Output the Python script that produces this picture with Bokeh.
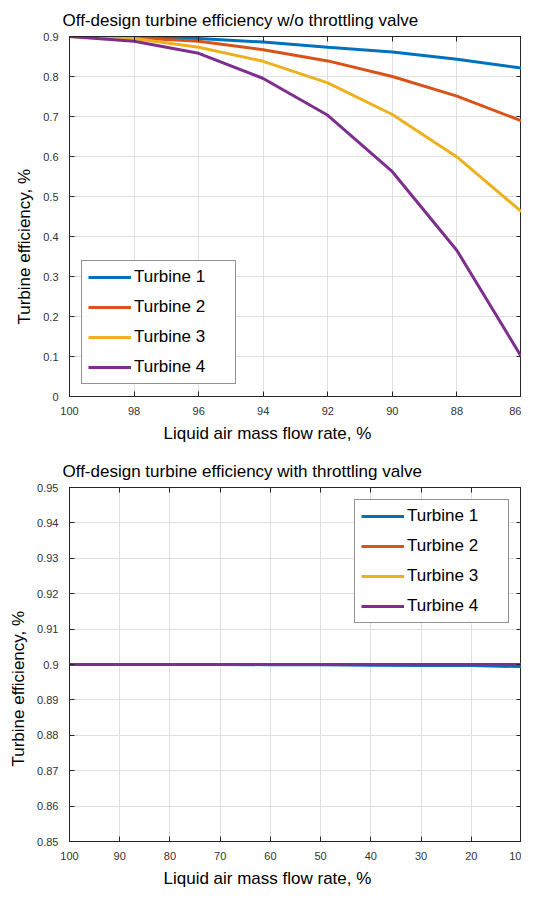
from bokeh.plotting import figure
from bokeh.models import Range1d, FixedTicker, LinearAxis, Legend, LegendItem, Title
from bokeh.layouts import column
from bokeh.embed import file_html
from bokeh.resources import INLINE

# ---------------- data ----------------
series_names = ["Turbine 1", "Turbine 2", "Turbine 3", "Turbine 4"]
colors = ["#0072BD", "#D95319", "#EDB120", "#7E2F8E"]

x_top = [100, 98, 96, 94, 92, 90, 88, 86]
t1_top = [0.900, 0.899, 0.895, 0.886, 0.873, 0.861, 0.843, 0.821]
t2_top = [0.900, 0.897, 0.888, 0.867, 0.839, 0.800, 0.751, 0.689]
t3_top = [0.900, 0.895, 0.873, 0.838, 0.784, 0.705, 0.599, 0.462]
t4_top = [0.900, 0.888, 0.858, 0.795, 0.703, 0.562, 0.365, 0.099]

x_bot = [100, 90, 80, 70, 60, 50, 40, 30, 20, 10]
t1_bot = [0.9, 0.9, 0.9, 0.9, 0.89995, 0.8999, 0.8998, 0.89975, 0.8997, 0.8994]
t2_bot = [0.9, 0.9, 0.9, 0.9, 0.9, 0.9, 0.9, 0.9, 0.9, 0.9]
t3_bot = [0.9, 0.9, 0.9, 0.9, 0.9, 0.9, 0.9, 0.9, 0.9, 0.9]
t4_bot = [0.9, 0.9, 0.9, 0.9, 0.9, 0.9, 0.9, 0.9, 0.9, 0.9]

xticks_top = [100, 98, 96, 94, 92, 90, 88, 86]
xtick_labels_top = ["100", "98", "96", "94", "92", "90", "88", "86"]
yticks_top = [0, 0.1, 0.2, 0.3, 0.4, 0.5, 0.6, 0.7, 0.8, 0.9]
ytick_labels_top = ["0", "0.1", "0.2", "0.3", "0.4", "0.5", "0.6", "0.7", "0.8", "0.9"]

xticks_bot = [100, 90, 80, 70, 60, 50, 40, 30, 20, 10]
xtick_labels_bot = ["100", "90", "80", "70", "60", "50", "40", "30", "20", "10"]
yticks_bot = [0.85, 0.86, 0.87, 0.88, 0.89, 0.9, 0.91, 0.92, 0.93, 0.94, 0.95]
ytick_labels_bot = ["0.85", "0.86", "0.87", "0.88", "0.89", "0.9", "0.91", "0.92", "0.93", "0.94", "0.95"]

title_top = "Off-design turbine efficiency w/o throttling valve"
title_bot = "Off-design turbine efficiency with throttling valve"
xlabel = "Liquid air mass flow rate, %"
ylabel = "Turbine efficiency, %"

FONT = "Liberation Sans"
AX_COLOR = "#262626"
TICK_COLOR = "#333333"


def style_axis(ax, ticks, labels):
    ax.ticker = FixedTicker(ticks=ticks)
    ax.major_label_overrides = {t: l for t, l in zip(ticks, labels)}
    ax.major_tick_in = 5
    ax.major_tick_out = 0
    ax.minor_tick_in = 0
    ax.minor_tick_out = 0
    ax.axis_line_color = AX_COLOR
    ax.major_tick_line_color = AX_COLOR
    ax.major_label_text_font = FONT
    ax.major_label_text_color = TICK_COLOR
    ax.major_label_text_font_size = "11px"


def mirror_axis(ticks):
    # tick marks only (drawn as minor ticks, which carry no labels)
    ax = LinearAxis(ticker=FixedTicker(ticks=[], minor_ticks=ticks))
    ax.minor_tick_in = 5
    ax.minor_tick_out = 0
    ax.major_tick_in = 0
    ax.major_tick_out = 0
    ax.minor_tick_line_color = AX_COLOR
    ax.axis_line_color = AX_COLOR
    ax.major_label_standoff = 0
    return ax


def side_label(text, offset, standoff):
    t = Title(text=text, align="left", offset=offset, standoff=standoff)
    t.text_font = FONT
    t.text_font_size = "17px"
    t.text_font_style = "normal"
    t.text_color = "#000000"
    return t


def make_fig(height, xr, yr, xt, xtl, yt, ytl, title, top_border, bottom_border,
             ylab_offset):
    p = figure(width=521, height=height, x_range=Range1d(*xr), y_range=Range1d(*yr),
               output_backend="svg", toolbar_location=None,
               min_border_left=68, min_border_right=0,
               min_border_top=top_border, min_border_bottom=bottom_border)
    p.title.text = title
    p.title.text_font = FONT
    p.title.text_font_size = "17px"
    p.title.text_font_style = "normal"
    p.title.text_color = "#000000"
    p.title.align = "left"
    p.title.offset = -7
    p.title.standoff = 13

    style_axis(p.xaxis[0], xt, xtl)
    style_axis(p.yaxis[0], yt, ytl)
    p.xaxis[0].major_label_standoff = 10
    p.yaxis[0].major_label_standoff = 11

    p.add_layout(side_label(xlabel, 94, 8), "below")
    p.add_layout(side_label(ylabel, ylab_offset, 13), "left")

    p.add_layout(mirror_axis(xt), "above")
    p.add_layout(mirror_axis(yt), "right")

    p.xgrid.ticker = FixedTicker(ticks=xt)
    p.ygrid.ticker = FixedTicker(ticks=yt)
    p.grid.grid_line_color = "#dfdfdf"
    p.grid.grid_line_width = 1
    p.outline_line_color = AX_COLOR
    p.outline_line_alpha = 1
    p.background_fill_color = "white"
    p.border_fill_color = "white"
    return p


def add_lines(p, xs, ys_list, loc):
    items = []
    for name, ys, c in zip(series_names, ys_list, colors):
        r = p.line(xs, ys, line_color=c, line_width=3)
        items.append(LegendItem(label=name, renderers=[r]))
    leg = Legend(items=items, location=loc)
    leg.label_text_font = FONT
    leg.label_text_font_size = "17px"
    leg.label_text_color = "#000000"
    leg.glyph_width = 43
    leg.glyph_height = 20
    leg.label_height = 20
    leg.label_standoff = 3
    leg.label_width = 95
    leg.spacing = 10
    leg.padding = 6
    leg.margin = 12
    leg.border_line_color = AX_COLOR
    leg.border_line_width = 1
    leg.background_fill_color = "white"
    leg.background_fill_alpha = 1
    p.add_layout(leg, "center")
    return leg


p1 = make_fig(448, (100, 86), (0, 0.9), xticks_top, xtick_labels_top,
              yticks_top, ytick_labels_top, title_top, 36, 52, 72)
add_lines(p1, x_top, [t1_top, t2_top, t3_top, t4_top], (12, 12))

p2 = make_fig(443, (100, 10), (0.85, 0.95), xticks_bot, xtick_labels_bot,
              yticks_bot, ytick_labels_bot, title_bot, 39, 47, 75)
add_lines(p2, x_bot, [t1_bot, t2_bot, t3_bot, t4_bot], "top_right")

layout = column(p1, p2, spacing=0)
open("out.html", "w").write(file_html(layout, INLINE))
